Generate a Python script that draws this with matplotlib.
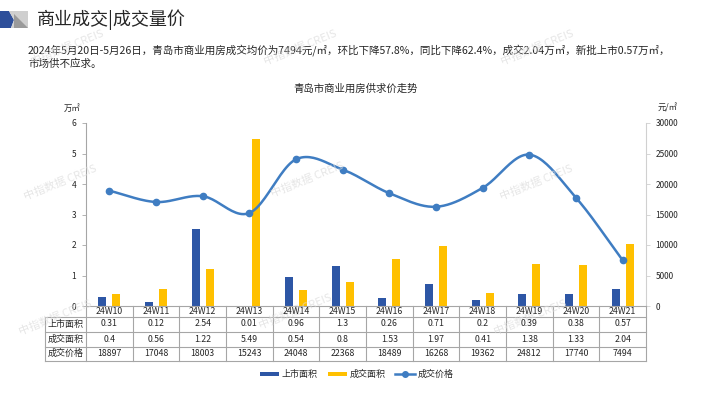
import numpy as np
import matplotlib
matplotlib.use("Agg")
import matplotlib.pyplot as plt
from matplotlib.patches import Rectangle, Polygon
from matplotlib.lines import Line2D

plt.rcParams['font.family'] = ['Noto Sans CJK SC', 'DejaVu Sans']

weeks = ['24W10', '24W11', '24W12', '24W13', '24W14', '24W15',
         '24W16', '24W17', '24W18', '24W19', '24W20', '24W21']
supply = [0.31, 0.12, 2.54, 0.01, 0.96, 1.3, 0.26, 0.71, 0.2, 0.39, 0.38, 0.57]
deal = [0.4, 0.56, 1.22, 5.49, 0.54, 0.8, 1.53, 1.97, 0.41, 1.38, 1.33, 2.04]
price = [18897, 17048, 18003, 15243, 24048, 22368, 18489, 16268, 19362, 24812, 17740, 7494]
row_names = ['上市面积', '成交面积', '成交价格']

BLUE = '#2D56A5'
YELLOW = '#FFC000'
LINE = '#3F7DC2'
GRID = '#A6A6A6'
TXT = '#262626'

W, H = 711, 400


def px(x, y):
    return x / W, 1 - y / H


def smooth(xs, ys, n=24):
    # catmull-rom curve through the points, like the office smoothed line
    xs = np.asarray(xs, float)
    ys = np.asarray(ys, float)
    P = np.column_stack([xs, ys])
    P = np.vstack([2 * P[0] - P[1], P, 2 * P[-1] - P[-2]])
    out = []
    for i in range(1, len(P) - 2):
        p0, p1, p2, p3 = P[i - 1], P[i], P[i + 1], P[i + 2]
        t = np.linspace(0, 1, n, endpoint=False)[:, None]
        seg = 0.5 * ((2 * p1) + (-p0 + p2) * t + (2 * p0 - 5 * p1 + 4 * p2 - p3) * t ** 2
                     + (-p0 + 3 * p1 - 3 * p2 + p3) * t ** 3)
        out.append(seg)
    out.append(P[-2][None, :])
    out = np.vstack(out)
    return out[:, 0], out[:, 1]


fig = plt.figure(figsize=(7.11, 4.0), dpi=100)

# header
icon_blue = Polygon([px(0, 11), px(9, 11), px(14, 20), px(11, 28), px(0, 28)],
                    closed=True, transform=fig.transFigure, color='#2E4F9A', lw=0)
icon_grey = Polygon([px(9, 11), px(28, 11), px(28, 28), px(11, 28), px(14, 20)],
                    closed=True, transform=fig.transFigure, color='#CFCFCF', lw=0)
icon_dark = Polygon([px(14, 14), px(28, 28), px(14, 28)],
                    closed=True, transform=fig.transFigure, color='#9A9A9A', lw=0)
for p in (icon_blue, icon_grey, icon_dark):
    fig.patches.append(p)
fig.text(*px(37, 20), '商业成交|成交量价', fontsize=13, color=TXT, va='center', ha='left')

fig.text(*px(28, 50), '2024年5月20日-5月26日，青岛市商业用房成交均价为7494元/㎡，环比下降57.8%，'
         '同比下降62.4%，成交2.04万㎡，新批上市0.57万㎡，',
         fontsize=7.6, color=TXT, va='center', ha='left')
fig.text(*px(28, 64), '市场供不应求。', fontsize=7.6, color=TXT, va='center', ha='left')

# watermarks
for wx, wy in [(67, 48), (300, 48), (537, 48), (60, 183), (307, 180), (536, 183),
               (55, 318), (295, 312), (530, 318)]:
    fig.text(*px(wx, wy), '中指数据 CREIS', fontsize=8, color='#DCDCDC', alpha=0.7,
             rotation=22, ha='center', va='center')

fig.text(*px(356, 89), '青岛市商业用房供求价走势', fontsize=7.5, color=TXT, ha='center', va='center')
fig.text(*px(72, 108), '万㎡', fontsize=6, color=TXT, ha='center', va='center')
fig.text(*px(668, 108), '元/㎡', fontsize=6, color=TXT, ha='center', va='center')

# axes
left, top = px(86, 123)
right, bottom = px(646, 306)
ax = fig.add_axes([left, bottom, right - left, top - bottom])
ax2 = ax.twinx()

x = np.arange(len(weeks))
ax.bar(x - 0.15, supply, width=0.17, color=BLUE, zorder=2)
ax.bar(x + 0.15, deal, width=0.17, color=YELLOW, zorder=2)

sx, sy = smooth(x, price)
ax2.plot(sx, sy, color=LINE, lw=1.8, zorder=3)
ax2.plot(x, price, 'o', color=LINE, ms=4.5, zorder=4)

ax.set_xlim(-0.5, len(weeks) - 0.5)
ax.set_ylim(0, 6)
ax2.set_ylim(0, 30000)
ax.set_yticks(range(0, 7))
ax2.set_yticks(range(0, 30001, 5000))
ax.set_xticks([])

for a in (ax, ax2):
    a.spines['top'].set_visible(False)
    a.spines['bottom'].set_visible(False)
    a.tick_params(labelsize=6, colors=TXT, length=3, width=0.6)
ax.spines['left'].set_color(GRID)
ax.spines['right'].set_visible(False)
ax2.spines['left'].set_visible(False)
ax2.spines['right'].set_color('#D0D0D0')
ax.tick_params(axis='y', color=GRID, pad=4)
ax2.tick_params(axis='y', color='#D0D0D0', pad=4)

# data table under the axes
col_w = (646 - 86) / len(weeks)
row_y = [306, 316.5, 331.5, 346.5, 361]
lines = []
lines.append(([86, 646], [306, 306]))
for ry in row_y[1:]:
    lines.append(([45, 646], [ry, ry]))
for i in range(len(weeks) + 1):
    xx = 86 + i * col_w
    lines.append(([xx, xx], [306, 361]))
lines.append(([45, 45], [316.5, 361]))
for lx, ly in lines:
    fx = [v / W for v in lx]
    fy = [1 - v / H for v in ly]
    fig.add_artist(Line2D(fx, fy, transform=fig.transFigure, color=GRID, lw=0.8))

table_rows = [[f'{v:g}' for v in supply], [f'{v:g}' for v in deal], [str(v) for v in price]]
for i, w in enumerate(weeks):
    cx = 86 + (i + 0.5) * col_w
    fig.text(*px(cx, (row_y[0] + row_y[1]) / 2), w, fontsize=6.3, color=TXT,
             ha='center', va='center')
    for r in range(3):
        cy = (row_y[r + 1] + row_y[r + 2]) / 2
        fig.text(*px(cx, cy), table_rows[r][i], fontsize=6.3, color=TXT,
                 ha='center', va='center')
for r, name in enumerate(row_names):
    cy = (row_y[r + 1] + row_y[r + 2]) / 2
    fig.text(*px(65.5, cy), name, fontsize=6.5, color=TXT, ha='center', va='center')

# legend
for (x0, x1), c in [((260, 279), BLUE), ((328, 347), YELLOW)]:
    fx, fy = px(x0, 375.5)
    fig.patches.append(Rectangle((fx, fy), (x1 - x0) / W, 3.5 / H,
                                 transform=fig.transFigure, color=c, lw=0))
fig.add_artist(Line2D([395 / W, 415 / W], [1 - 373.5 / H] * 2, transform=fig.transFigure,
                      color=LINE, lw=1.8))
fig.add_artist(Line2D([405 / W], [1 - 373.5 / H], transform=fig.transFigure,
                      color=LINE, marker='o', ms=4))
for tx, label in [(282, '上市面积'), (350, '成交面积'), (418, '成交价格')]:
    fig.text(*px(tx, 374), label, fontsize=6.5, color=TXT, ha='left', va='center')

fig.savefig('out.png', dpi=100)
